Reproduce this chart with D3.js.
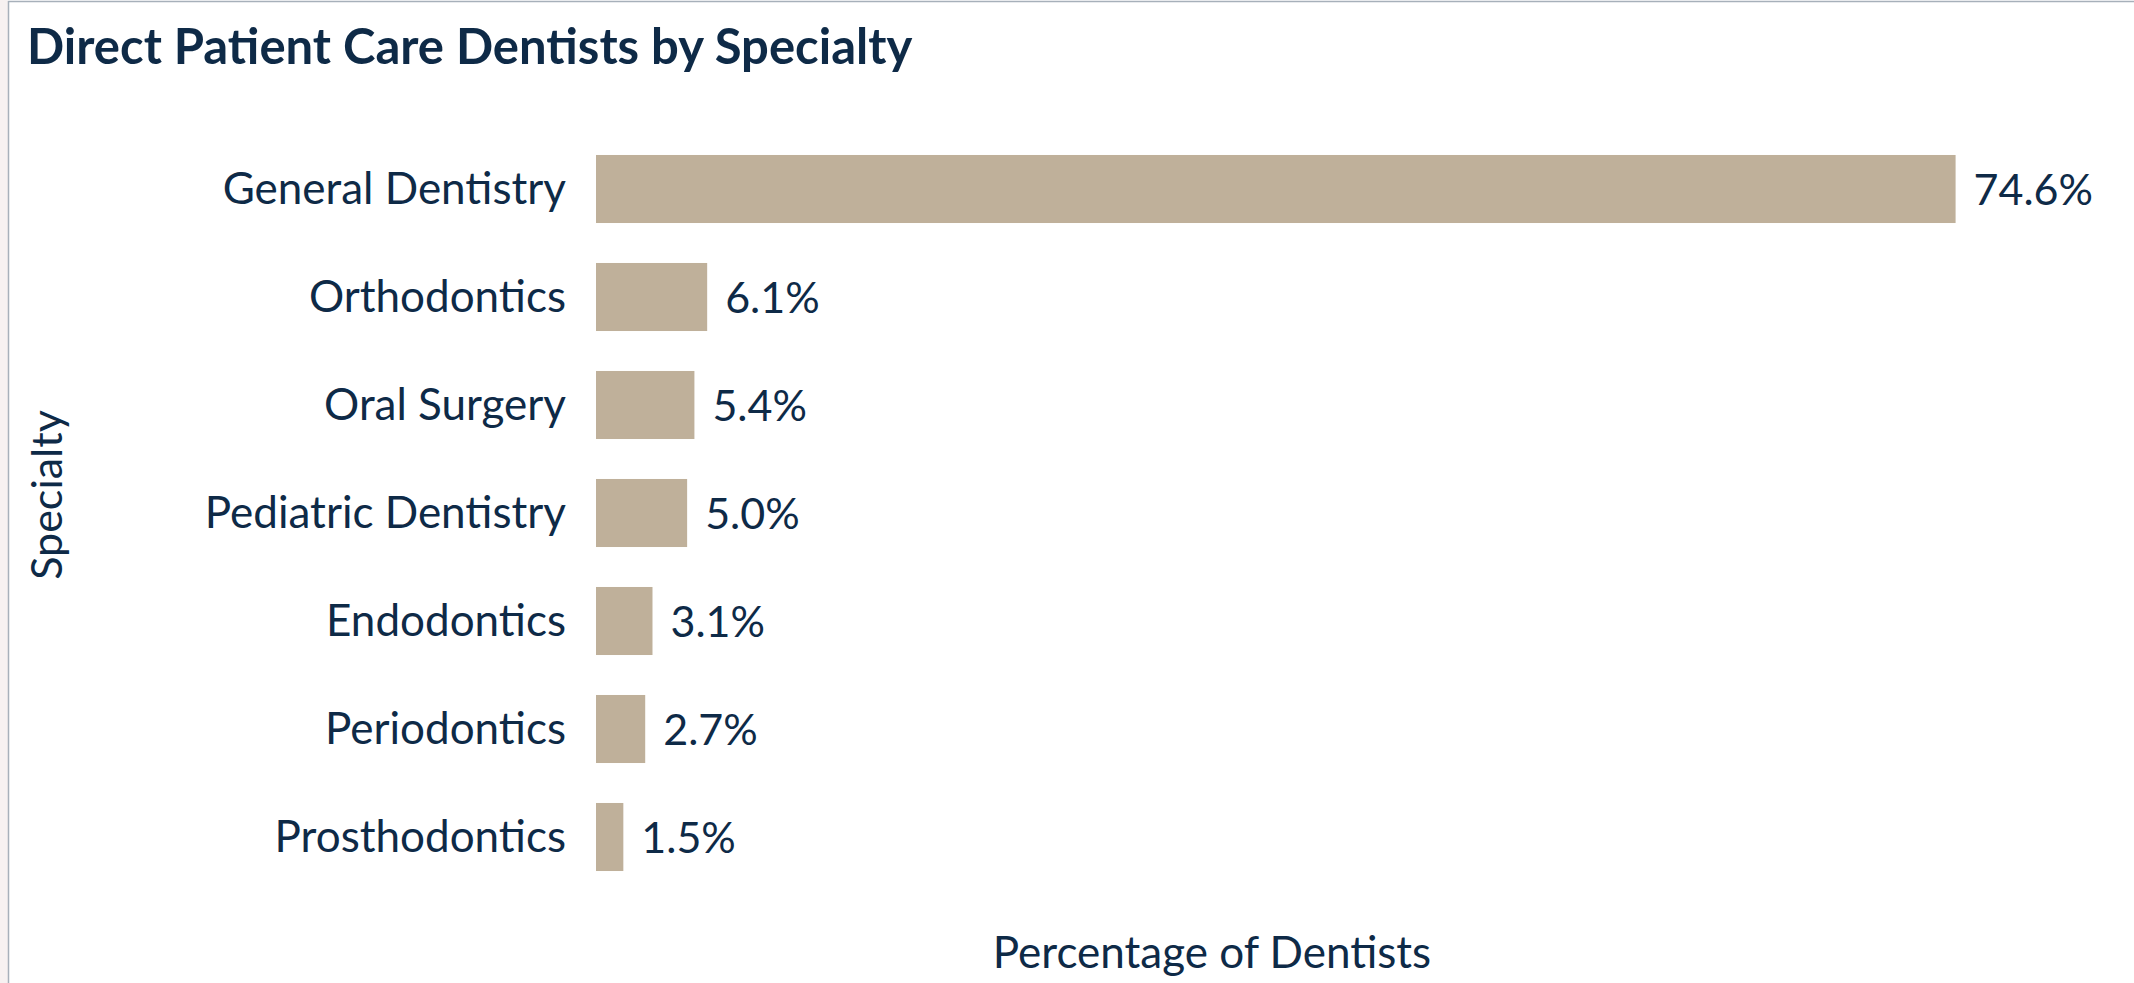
<!DOCTYPE html>
<html>
<head>
<meta charset="utf-8">
<script src="https://cdn.jsdelivr.net/npm/d3@7"></script>
<style>
  html, body { margin: 0; padding: 0; background: #ffffff; }
  svg { display: block; }
</style>
</head>
<body>
<svg id="chart" width="2134" height="983"></svg>
<script>
const categories = ["General Dentistry", "Orthodontics", "Oral Surgery", "Pediatric Dentistry", "Endodontics", "Periodontics", "Prosthodontics"];
const values = [74.6, 6.1, 5.4, 5.0, 3.1, 2.7, 1.5];
const titleText = "Direct Patient Care Dentists by Specialty";
const xAxisTitle = "Percentage of Dentists";
const yAxisTitle = "Specialty";

const W = 2134, H = 983;
const textColor = "#0e2a47";
const barColor = "#bfb09a";
const font = "Lato, 'Open Sans', sans-serif";

const svg = d3.select("#chart");

// page strip + frame
svg.append("rect").attr("x", 0).attr("y", 0).attr("width", W).attr("height", H).attr("fill", "#ffffff");
svg.append("rect").attr("x", 0).attr("y", 0).attr("width", 8).attr("height", H).attr("fill", "#f7f1f1");
svg.append("line").attr("x1", 8.5).attr("x2", 8.5).attr("y1", 1).attr("y2", H).attr("stroke", "#a7b0ba").attr("stroke-width", 1.5);
svg.append("line").attr("x1", 8).attr("x2", W).attr("y1", 1.5).attr("y2", 1.5).attr("stroke", "#a7b0ba").attr("stroke-width", 1.5);

const x = d3.scaleLinear().domain([0, 80]).range([596, 2054]);
const y = d3.scaleBand().domain(categories).range([135, 891]).paddingInner(0.37).paddingOuter(0.185);

const data = categories.map((c, i) => ({ c, v: values[i] }));

// title
svg.append("text")
  .attr("x", 27).attr("y", 64)
  .attr("font-family", font).attr("font-weight", 700).attr("font-size", 49)
  .attr("fill", textColor)
  .text(titleText);

// bars
svg.append("g").selectAll("rect").data(data).join("rect")
  .attr("x", x(0))
  .attr("y", d => y(d.c))
  .attr("width", d => x(d.v) - x(0))
  .attr("height", y.bandwidth())
  .attr("fill", barColor);

// category axis (no line, no ticks)
const yAxis = d3.axisLeft(y).tickSize(0).tickPadding(0);
const yg = svg.append("g").attr("transform", "translate(566,0)").call(yAxis);
yg.select(".domain").remove();
yg.selectAll("text")
  .attr("font-family", font).attr("font-size", 44)
  .attr("fill", textColor)
  .attr("dy", null)
  .attr("y", 15);

// value labels
svg.append("g").selectAll("text").data(data).join("text")
  .attr("x", d => x(d.v) + 18)
  .attr("y", d => y(d.c) + y.bandwidth() / 2 + 16)
  .attr("font-family", font).attr("font-size", 43)
  .attr("fill", textColor)
  .text(d => d.v.toFixed(1) + "%");

// axis titles
svg.append("text")
  .attr("x", 1212).attr("y", 968)
  .attr("text-anchor", "middle")
  .attr("font-family", font).attr("font-size", 44)
  .attr("fill", textColor)
  .text(xAxisTitle);

svg.append("text")
  .attr("transform", "translate(62,495) rotate(-90)")
  .attr("text-anchor", "middle")
  .attr("font-family", font).attr("font-size", 43)
  .attr("fill", textColor)
  .text(yAxisTitle);
</script>
</body>
</html>
